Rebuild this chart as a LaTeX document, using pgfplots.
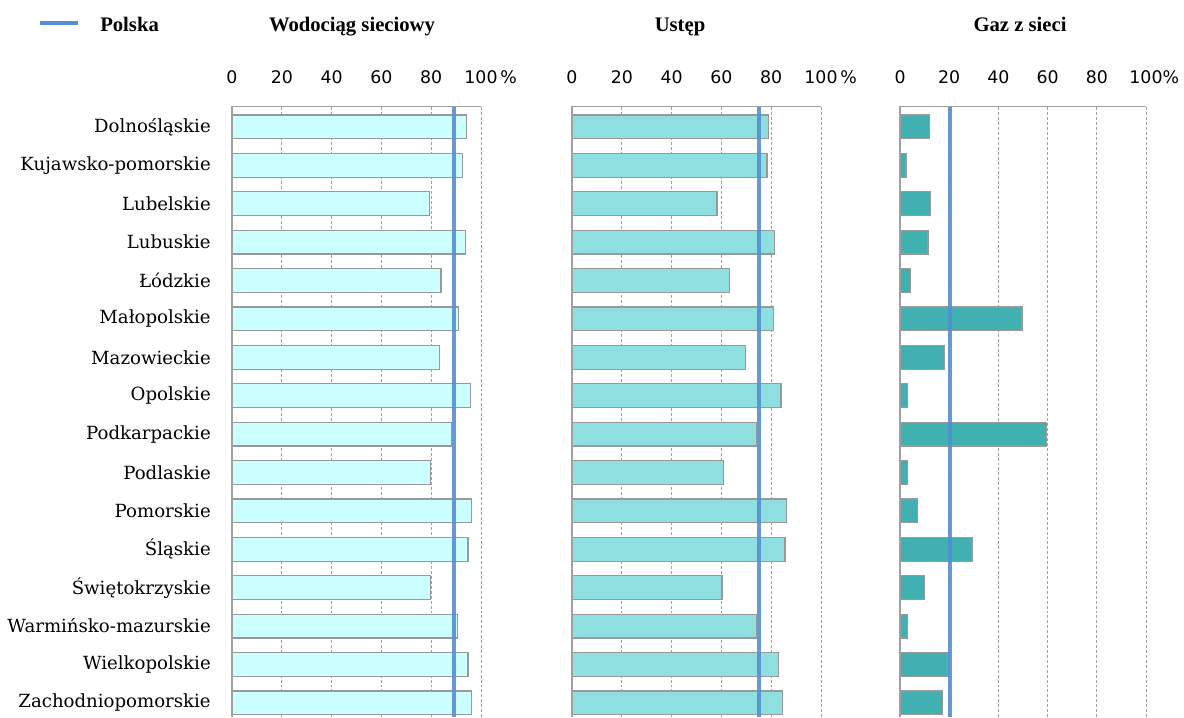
\documentclass[border=0pt]{standalone}
\usepackage{fontspec}
\setmainfont{Liberation Serif}
\newfontfamily\catfont{DejaVu Serif}
\newfontfamily\tickfont{DejaVu Sans}
\usepackage{pgfplots}
\usepackage{pgfplotstable}
\pgfplotsset{compat=1.18}

\definecolor{polska}{HTML}{558ED5}
\definecolor{wodac}{HTML}{CCFFFF}
\definecolor{ustepc}{HTML}{8EE0E0}
\definecolor{gazc}{HTML}{40B0B0}
\definecolor{edgec}{HTML}{999999}
\definecolor{gridc}{HTML}{A0A0A0}

% idx 15 = top row (Dolnośląskie), 0 = bottom row
\pgfplotstableread{
idx woda ustep gaz
15 94.2 78.9 11.9
14 92.6 78.3 2.4
13 79.2 58.2 12.5
12 93.7 81.4 11.4
11 83.9 63.3 4.1
10 91.0 80.9 49.6
9  83.4 69.6 18.2
8  95.7 83.9 3.0
7  88.0 74.2 59.6
6  79.8 60.8 3.0
5  96.3 86.1 7.2
4  94.8 85.5 29.3
3  79.8 60.2 9.9
2  90.6 74.2 3.0
1  94.8 83.0 19.5
0  96.3 84.5 17.2
}\dane

\pgfplotsset{
  panel/.style={
    scale only axis, width=#1, height=457.9pt,
    anchor=north west,
    xbar, bar width=0.62, bar shift=0pt,
    xmin=0, xmax=100, ymin=-0.37, ymax=15.53,
    xtick={0,20,40,60,80,100},
    ytick=\empty,
    xticklabel pos=upper,
    major tick length=0pt,
    xmajorgrids,
    grid style={gridc, dash pattern=on 2.2pt off 1.5pt, line width=0.75pt},
    axis line style={draw=none},
    xticklabel style={font=\tickfont\fontsize{13}{15}\selectfont, anchor=base, yshift=17.5pt},
    clip=false,
  },
  barstyle/.style={fill=#1, draw=edgec, line width=0.9pt},
  pline/.style={sharp plot, draw=polska, line width=3pt, opacity=0.9},
}
\tikzset{frame/.style={draw=gridc, line width=1pt}}

\begin{document}
\begin{tikzpicture}
\useasboundingbox (0,0) rectangle (888pt,-537.75pt);

\draw[polska, line width=3pt] (30pt,-17.25pt) -- (58.5pt,-17.25pt);
\node[anchor=base west, inner sep=0pt, font=\bfseries\fontsize{15.5}{18}\selectfont] at (75pt,-23.6pt) {Polska};
\node[anchor=base, inner sep=0pt, font=\bfseries\fontsize{15.5}{18}\selectfont] at (264pt,-23.6pt) {Wodociąg sieciowy};
\node[anchor=base, inner sep=0pt, font=\bfseries\fontsize{15.5}{18}\selectfont] at (510pt,-23.6pt) {Ustęp};
\node[anchor=base, inner sep=0pt, font=\bfseries\fontsize{15.5}{18}\selectfont] at (765pt,-23.6pt) {Gaz z sieci};

\begin{axis}[panel=186.75pt, at={(174pt,-79.9pt)},
  xticklabels={0,20,40,60,80,100\rlap{\,\%}},
  ytick={0,...,15},
  yticklabels={Zachodniopomorskie,Wielkopolskie,Warmińsko-mazurskie,Świętokrzyskie,Śląskie,Pomorskie,Podlaskie,Podkarpackie,Opolskie,Mazowieckie,Małopolskie,Łódzkie,Lubuskie,Lubelskie,Kujawsko-pomorskie,Dolnośląskie},
  yticklabel style={font=\catfont\fontsize{13.6}{15}\selectfont, anchor=east, inner sep=0pt, xshift=-15.75pt},
]
\addplot[barstyle=wodac] table[x=woda, y=idx] {\dane};
\addplot[pline] coordinates {(89.3,-0.37) (89.3,15.53)};
\draw[frame] (rel axis cs:0,0) -- (rel axis cs:0,1) -- (rel axis cs:1,1);
\end{axis}

\begin{axis}[panel=186.75pt, at={(429pt,-79.9pt)},
  xticklabels={0,20,40,60,80,100\rlap{\,\%}},
]
\addplot[barstyle=ustepc] table[x=ustep, y=idx] {\dane};
\addplot[pline] coordinates {(75.0,-0.37) (75.0,15.53)};
\draw[frame] (rel axis cs:0,0) -- (rel axis cs:0,1) -- (rel axis cs:1,1);
\end{axis}

\begin{axis}[panel=184.5pt, at={(675pt,-79.9pt)},
  xticklabels={0,20,40,60,80,100\rlap{\%}},
]
\addplot[barstyle=gazc] table[x=gaz, y=idx] {\dane};
\addplot[pline] coordinates {(20.5,-0.37) (20.5,15.53)};
\draw[frame] (rel axis cs:0,0) -- (rel axis cs:0,1) -- (rel axis cs:1,1);
\end{axis}
\end{tikzpicture}
\end{document}
